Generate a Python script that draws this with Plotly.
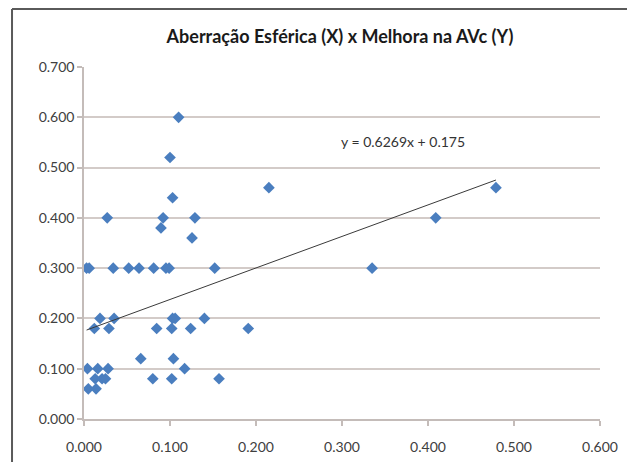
import plotly.graph_objects as go

# Data
x_values = [
    0.110, 0.100, 0.215, 0.479, 0.103,
    0.027, 0.092, 0.129, 0.409, 0.0895, 0.1256,
    0.003, 0.006, 0.034, 0.052, 0.064, 0.081, 0.0953, 0.099, 0.152, 0.335,
    0.0186, 0.035, 0.103, 0.106, 0.140,
    0.012, 0.029, 0.0845, 0.102, 0.124, 0.191,
    0.066, 0.104,
    0.004, 0.016, 0.028, 0.117,
    0.013, 0.021, 0.025, 0.080, 0.102, 0.157,
    0.005, 0.014,
]
y_values = [
    0.60, 0.52, 0.46, 0.46, 0.44,
    0.40, 0.40, 0.40, 0.40, 0.38, 0.36,
    0.30, 0.30, 0.30, 0.30, 0.30, 0.30, 0.30, 0.30, 0.30, 0.30,
    0.20, 0.20, 0.20, 0.20, 0.20,
    0.18, 0.18, 0.18, 0.18, 0.18, 0.18,
    0.12, 0.12,
    0.10, 0.10, 0.10, 0.10,
    0.08, 0.08, 0.08, 0.08, 0.08, 0.08,
    0.06, 0.06,
]

trend_slope = 0.6269
trend_intercept = 0.175
trend_label = "y = 0.6269x + 0.175"

x_ticks = [0.0, 0.1, 0.2, 0.3, 0.4, 0.5, 0.6]
y_ticks = [0.0, 0.1, 0.2, 0.3, 0.4, 0.5, 0.6, 0.7]

title_text = "Aberração Esférica (X) x Melhora na AVc (Y)"

x_min, x_max = min(x_values), max(x_values)
trend_x = [x_min, x_max]
trend_y = [trend_slope * v + trend_intercept for v in trend_x]

font_family = "Lato, 'Open Sans', sans-serif"
grid_color = "#d3cbc8"
axis_color = "#c4bcb9"
frame_color = "#5a5a5a"

fig = go.Figure()
fig.add_trace(go.Scatter(
    x=x_values, y=y_values, mode="markers",
    marker=dict(symbol="diamond", size=9, color="#4a7ebf",
                line=dict(width=0)),
    showlegend=False, hoverinfo="x+y",
))
fig.add_trace(go.Scatter(
    x=trend_x, y=trend_y, mode="lines",
    line=dict(color="#3a3a3a", width=1),
    showlegend=False, hoverinfo="skip",
))

fig.add_annotation(
    x=0.371, y=0.552, xref="x", yref="y",
    text=trend_label, showarrow=False,
    font=dict(family=font_family, size=14, color="#333333"),
)

# outer chart frame: only the left and top edges are inside the picture
fig.add_shape(type="line", xref="paper", yref="paper",
              x0=-0.1395, x1=-0.1395, y0=-0.3, y1=1.165,
              line=dict(color=frame_color, width=2), layer="below")
fig.add_shape(type="line", xref="paper", yref="paper",
              x0=-0.1395, x1=1.2, y0=1.165, y1=1.165,
              line=dict(color=frame_color, width=2), layer="below")

fig.update_layout(
    width=619, height=454,
    margin=dict(l=76, r=27, t=59, b=43, autoexpand=False),
    paper_bgcolor="white", plot_bgcolor="white",
    title=dict(text="<b>" + title_text + "</b>", x=0.5363, xanchor="center",
               y=0.936, yanchor="middle",
               font=dict(family=font_family, size=18, color="#1a1a1a")),
    font=dict(family=font_family, size=14, color="#404040"),
    xaxis=dict(
        range=[0, 0.6], tickvals=x_ticks,
        tickformat=".3f", showgrid=False, zeroline=False,
        showline=True, linecolor=axis_color, linewidth=1.5,
        ticks="outside", ticklen=5, tickcolor=axis_color, tickwidth=1.5,
        tickfont=dict(size=14, color="#404040"),
        ticklabelstandoff=9,
        automargin=False, fixedrange=True,
    ),
    yaxis=dict(
        range=[0, 0.7], tickvals=y_ticks,
        tickformat=".3f", showgrid=True, gridcolor=grid_color, gridwidth=1.5,
        zeroline=False,
        showline=True, linecolor=axis_color, linewidth=1.5,
        ticks="outside", ticklen=5, tickcolor=axis_color, tickwidth=1.5,
        tickfont=dict(size=14, color="#404040"),
        ticklabelstandoff=0,
        automargin=False, fixedrange=True,
    ),
)

fig.write_html("out.html")
